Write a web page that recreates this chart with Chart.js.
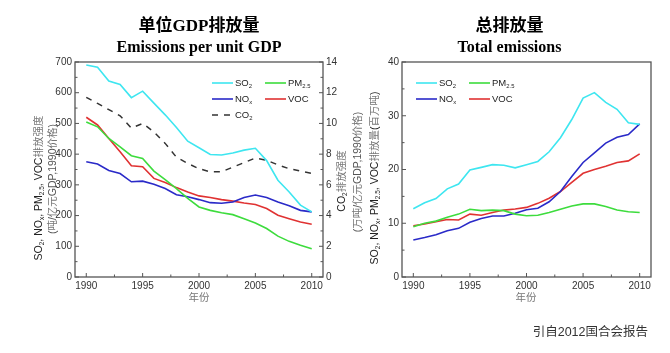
<!DOCTYPE html>
<html>
<head>
<meta charset="utf-8">
<script src="https://cdn.jsdelivr.net/npm/chart.js@4.4.1/dist/chart.umd.min.js"></script>
<style>
  body { margin: 0; background: #fff; }
  #wrap { position: relative; width: 670px; height: 353px; overflow: hidden; background: #fff; }
  canvas { position: absolute; top: 0; }
</style>
</head>
<body>
<div id="wrap">
  <canvas id="intensityChart" width="368" height="353" style="left:0"></canvas>
  <canvas id="totalChart" width="302" height="353" style="left:368px"></canvas>
</div>
<script>
// years and tick labels
const years = [1990, 1991, 1992, 1993, 1994, 1995, 1996, 1997, 1998, 1999, 2000,
               2001, 2002, 2003, 2004, 2005, 2006, 2007, 2008, 2009, 2010];
const xTicks = [1990, 1995, 2000, 2005, 2010];
const intensityTicks = [0, 100, 200, 300, 400, 500, 600, 700];
const co2Ticks = [0, 2, 4, 6, 8, 10, 12, 14];
const totalTicks = [0, 10, 20, 30, 40];

// emissions per unit GDP (吨/亿元GDP), CO2 in 万吨/亿元GDP
const so2Intensity = [690, 683, 638, 627, 584, 605, 566, 528, 487, 442, 421, 399, 397, 404, 413, 419, 379, 315, 277, 234, 212];
const pm25Intensity = [505, 489, 451, 424, 395, 386, 345, 317, 288, 256, 228, 217, 209, 203, 190, 176, 158, 133, 116, 103, 92];
const noxIntensity = [375, 368, 347, 337, 310, 312, 302, 288, 268, 261, 252, 242, 240, 244, 259, 267, 259, 244, 232, 217, 212];
const vocIntensity = [520, 495, 451, 408, 362, 359, 321, 308, 291, 277, 264, 259, 252, 247, 241, 236, 223, 201, 190, 179, 172];
const co2Intensity = [11.7, 11.3, 10.9, 10.5, 9.7, 10.0, 9.45, 8.7, 7.8, 7.4, 7.05, 6.85, 6.85, 7.15, 7.45, 7.75, 7.6, 7.3, 7.05, 6.9, 6.75];

// total emissions (百万吨)
const so2Total = [12.7, 13.8, 14.6, 16.4, 17.3, 19.9, 20.4, 20.9, 20.8, 20.3, 20.9, 21.5, 23.3, 25.9, 29.3, 33.3, 34.3, 32.5, 31.2, 28.7, 28.4];
const pm25Total = [9.35, 10.0, 10.4, 11.1, 11.7, 12.6, 12.35, 12.45, 12.35, 11.7, 11.4, 11.5, 12.0, 12.6, 13.2, 13.6, 13.6, 13.1, 12.45, 12.15, 12.0];
const noxTotal = [6.9, 7.35, 7.85, 8.6, 9.05, 10.2, 10.9, 11.35, 11.35, 11.85, 12.5, 12.8, 14.0, 15.9, 18.7, 21.3, 23.1, 24.9, 26.0, 26.5, 28.5];
const vocTotal = [9.55, 9.85, 10.3, 10.7, 10.6, 11.7, 11.5, 12.0, 12.45, 12.65, 12.95, 13.7, 14.65, 15.9, 17.6, 19.3, 20.0, 20.6, 21.3, 21.6, 22.9];

const CYAN = '#3ee6f0', GREEN = '#3ddc3d', BLUE = '#2a2ac8', RED = '#e03232', DARK = '#333';
const SANS = '"Liberation Sans", "Noto Sans CJK SC", sans-serif';
const SERIF = '"Liberation Serif", "Noto Sans CJK SC", serif';

function pts(arr) {
  return years.map((y, i) => ({ x: y, y: arr[i] }));
}

function line(label, arr, color, extra) {
  return Object.assign({
    label: label,
    data: pts(arr),
    borderColor: color,
    backgroundColor: color,
    borderWidth: 1.6,
    pointRadius: 0,
    tension: 0,
    fill: false
  }, extra || {});
}

// split "SO_{2}" style text into runs (subscript / cjk)
function richRuns(str) {
  const runs = [];
  const re = /_\{([^}]*)\}/g;
  let last = 0, m;
  while ((m = re.exec(str))) {
    if (m.index > last) runs.push({ t: str.slice(last, m.index), sub: false });
    runs.push({ t: m[1], sub: true });
    last = re.lastIndex;
  }
  if (last < str.length) runs.push({ t: str.slice(last), sub: false });
  const out = [];
  runs.forEach(r => {
    r.t.split(/([\u3400-\u9fff]+)/).forEach(p => {
      if (p) out.push({ t: p, sub: r.sub, cjk: /[\u3400-\u9fff]/.test(p) });
    });
  });
  return out;
}

function drawRich(ctx, item) {
  const size = item.size || 10;
  const runs = richRuns(item.text);
  const fontFor = r => (r.sub ? size * 0.62 : size) + 'px ' + SANS;
  let w = 0;
  runs.forEach(r => { ctx.font = fontFor(r); r.w = ctx.measureText(r.t).width; w += r.w; });
  ctx.save();
  ctx.translate(item.x, item.y);
  if (item.rot) ctx.rotate(item.rot * Math.PI / 180);
  let x = item.align === 'left' ? 0 : item.align === 'right' ? -w : -w / 2;
  ctx.textBaseline = 'middle';
  ctx.textAlign = 'left';
  runs.forEach(r => {
    ctx.font = fontFor(r);
    ctx.fillStyle = (r.cjk && item.cjkColor) ? item.cjkColor : (item.color || '#222');
    ctx.fillText(r.t, x, r.sub ? size * 0.33 : 0);
    x += r.w;
  });
  ctx.restore();
}

// frame, inward ticks, legend in plot, axis titles
const decor = {
  id: 'decor',
  afterDraw(chart, args, opts) {
    const ctx = chart.ctx, a = chart.chartArea;
    ctx.save();
    ctx.strokeStyle = '#555';
    ctx.lineWidth = 1;
    (opts.marks || []).forEach(t => {
      const s = chart.scales[t.id];
      let i = 0;
      for (let v = t.from; v <= t.to + 1e-9; v += t.step, i++) {
        const len = i % 2 === 0 ? 4 : 2.5;
        const p = s.getPixelForValue(v);
        ctx.beginPath();
        if (s.axis === 'x') { ctx.moveTo(p, a.bottom); ctx.lineTo(p, a.bottom - len); }
        else if (s.position === 'left') { ctx.moveTo(a.left, p); ctx.lineTo(a.left + len, p); }
        else { ctx.moveTo(a.right, p); ctx.lineTo(a.right - len, p); }
        ctx.stroke();
      }
    });
    ctx.lineWidth = 1.3;
    ctx.strokeRect(a.left, a.top, a.right - a.left, a.bottom - a.top);

    const lg = opts.legend;
    if (lg) {
      chart.data.datasets.forEach((ds, i) => {
        const x = lg.x + (i % 2) * lg.colW;
        const y = lg.y + Math.floor(i / 2) * lg.rowH;
        ctx.save();
        ctx.strokeStyle = ds.borderColor;
        ctx.lineWidth = ds.borderWidth;
        ctx.setLineDash(ds.borderDash || []);
        ctx.beginPath();
        ctx.moveTo(x, y);
        ctx.lineTo(x + 21, y);
        ctx.stroke();
        ctx.restore();
        drawRich(ctx, { text: ds.label, x: x + 23, y: y, size: 9.5, align: 'left', color: '#222' });
      });
    }
    (opts.texts || []).forEach(t => drawRich(ctx, t));
    ctx.restore();
  }
};

function xScale() {
  return {
    type: 'linear',
    min: 1989,
    max: 2011,
    grid: { display: false, drawTicks: false },
    border: { display: false },
    afterBuildTicks: s => { s.ticks = xTicks.map(v => ({ value: v })); },
    afterFit: s => { s.height = 76; },
    ticks: {
      autoSkip: false, maxRotation: 0, padding: 3, color: DARK,
      font: { family: SANS, size: 10 },
      callback: v => String(v)
    }
  };
}

function yScale(pos, min, max, tickList, width) {
  return {
    type: 'linear',
    position: pos,
    min: min,
    max: max,
    grid: { display: false, drawTicks: false },
    border: { display: false },
    afterBuildTicks: s => { s.ticks = tickList.map(v => ({ value: v })); },
    afterFit: s => { s.width = width; },
    ticks: { padding: 3, color: DARK, font: { family: SANS, size: 10 } }
  };
}

new Chart(document.getElementById('intensityChart'), {
  type: 'line',
  data: {
    datasets: [
      line('SO_{2}', so2Intensity, CYAN),
      line('PM_{2.5}', pm25Intensity, GREEN),
      line('NO_{x}', noxIntensity, BLUE),
      line('VOC', vocIntensity, RED),
      line('CO_{2}', co2Intensity, DARK, { yAxisID: 'y2', borderDash: [6, 6], borderWidth: 1.5 })
    ]
  },
  options: {
    responsive: false,
    animation: false,
    layout: { padding: 0 },
    scales: {
      x: xScale(),
      y: yScale('left', 0, 700, intensityTicks, 75),
      y2: yScale('right', 0, 14, co2Ticks, 45)
    },
    plugins: {
      legend: { display: false },
      tooltip: { enabled: false },
      title: {
        display: true, fullSize: false, text: '单位GDP排放量', color: '#000',
        font: { family: SERIF, size: 17, weight: 'bold', lineHeight: 1.2 },
        padding: { top: 16, bottom: 0 }
      },
      subtitle: {
        display: true, fullSize: false, text: 'Emissions per unit GDP', color: '#000',
        font: { family: SERIF, size: 16, weight: 'bold', lineHeight: 1.2 },
        padding: { top: 2, bottom: 4.4 }
      },
      decor: {
        marks: [
          { id: 'x', from: 1990, to: 2010, step: 2.5 },
          { id: 'y', from: 0, to: 700, step: 50 },
          { id: 'y2', from: 0, to: 14, step: 1 }
        ],
        legend: { x: 212, y: 83, colW: 53, rowH: 16 },
        texts: [
          { text: 'SO_{2}, NO_{x}, PM_{2.5}, VOC排放强度', x: 39, y: 188, rot: -90, size: 10.5, color: '#222', cjkColor: '#777' },
          { text: '(吨/亿元GDP,1990价格)', x: 53, y: 179, rot: -90, size: 10.5, color: '#555', cjkColor: '#777' },
          { text: 'CO_{2}排放强度', x: 342, y: 181, rot: -90, size: 10.5, color: '#222', cjkColor: '#777' },
          { text: '(万吨/亿元GDP,1990价格)', x: 358, y: 172, rot: -90, size: 10.5, color: '#555', cjkColor: '#777' },
          { text: '年份', x: 199, y: 298, size: 10.5, color: '#777', cjkColor: '#777' }
        ]
      }
    }
  },
  plugins: [decor]
});

new Chart(document.getElementById('totalChart'), {
  type: 'line',
  data: {
    datasets: [
      line('SO_{2}', so2Total, CYAN),
      line('PM_{2.5}', pm25Total, GREEN),
      line('NO_{x}', noxTotal, BLUE),
      line('VOC', vocTotal, RED)
    ]
  },
  options: {
    responsive: false,
    animation: false,
    layout: { padding: { left: 0, right: 19, top: 0, bottom: 0 } },
    scales: {
      x: xScale(),
      y: yScale('left', 0, 40, totalTicks, 34)
    },
    plugins: {
      legend: { display: false },
      tooltip: { enabled: false },
      title: {
        display: true, text: '总排放量', color: '#000',
        font: { family: SERIF, size: 17, weight: 'bold', lineHeight: 1.2 },
        padding: { top: 16, bottom: 0 }
      },
      subtitle: {
        display: true, text: 'Total emissions', color: '#000',
        font: { family: SERIF, size: 16, weight: 'bold', lineHeight: 1.2 },
        padding: { top: 2, bottom: 4.4 }
      },
      decor: {
        marks: [
          { id: 'x', from: 1990, to: 2010, step: 2.5 },
          { id: 'y', from: 0, to: 40, step: 5 }
        ],
        legend: { x: 48, y: 83, colW: 53, rowH: 16 },
        texts: [
          { text: 'SO_{2}, NO_{x}, PM_{2.5}, VOC排放量(百万吨)', x: 7, y: 178, rot: -90, size: 10.5, color: '#222', cjkColor: '#777' },
          { text: '年份', x: 158, y: 298, size: 10.5, color: '#777', cjkColor: '#777' },
          { text: '引自2012国合会报告', x: 280, y: 333, size: 12.5, align: 'right', color: '#333', cjkColor: '#333' }
        ]
      }
    }
  },
  plugins: [decor]
});
</script>
</body>
</html>
